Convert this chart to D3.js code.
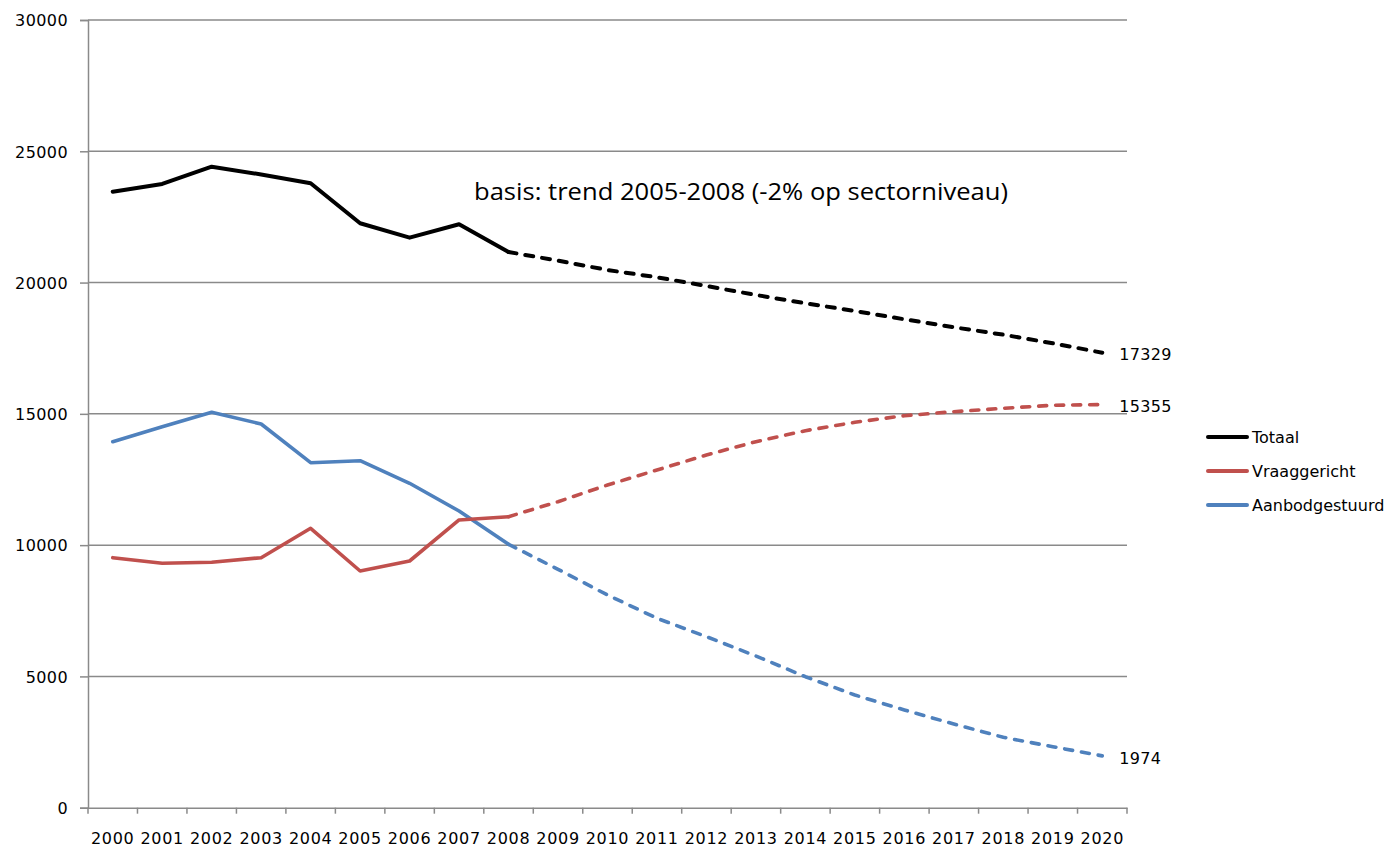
<!DOCTYPE html>
<html>
<head>
<meta charset="utf-8">
<script src="https://cdn.jsdelivr.net/npm/d3@7"></script>
<style>
  html, body { margin: 0; padding: 0; background: #ffffff; }
  svg { display: block; }
</style>
</head>
<body>
<svg id="chart" width="1398" height="849"></svg>
<script>
// Categories (years) and series values
const years = ["2000","2001","2002","2003","2004","2005","2006","2007","2008","2009","2010",
               "2011","2012","2013","2014","2015","2016","2017","2018","2019","2020"];
const totaal = [23462, 23755, 24414, 24117, 23782, 22258, 21710, 22220, 21165, 20833, 20479,
                20201, 19870, 19527, 19211, 18918, 18602, 18297, 18015, 17688, 17329];
const vraaggericht = [9522, 9308, 9347, 9522, 10642, 9015, 9396, 10958, 11083, 11655, 12291,
                      12862, 13433, 13940, 14359, 14679, 14930, 15082, 15212, 15326, 15355];
const aanbodgestuurd = [13940, 14511, 15060, 14614, 13140, 13216, 12355, 11300, 10032, 9080, 8101,
                        7214, 6513, 5778, 4989, 4292, 3721, 3188, 2681, 2323, 1974];
const yTicks = [0, 5000, 10000, 15000, 20000, 25000, 30000];
const seriesNames = ["Totaal", "Vraaggericht", "Aanbodgestuurd"];
const seriesColors = ["#000000", "#C0504D", "#4F81BD"];
const lastActualYear = "2008";
const note = "basis: trend 2005-2008 (-2% op sectorniveau)";

const svg = d3.select("#chart");
const plotLeft = 88, plotRight = 1127, plotTop = 20, plotBottom = 807.7;
const axisColor = "#8a8a8a";
const tickFont = "'DejaVu Sans', Verdana, sans-serif";

const x = d3.scaleBand().domain(years).range([plotLeft, plotRight]).padding(0);
const y = d3.scaleLinear().domain([0, 30000]).range([plotBottom, plotTop]);
const cx = d => x(d) + x.bandwidth() / 2;

// Horizontal gridlines
svg.append("g")
  .selectAll("line")
  .data(yTicks.filter(t => t > 0))
  .join("line")
  .attr("x1", plotLeft).attr("x2", plotRight)
  .attr("y1", d => y(d)).attr("y2", d => y(d))
  .attr("stroke", axisColor).attr("stroke-width", 1.5);

// Y axis
const yAxis = svg.append("g")
  .attr("transform", `translate(${plotLeft},0)`)
  .call(d3.axisLeft(y).tickValues(yTicks).tickSize(8).tickPadding(12).tickFormat(d => String(d)));
yAxis.select(".domain").attr("stroke", axisColor).attr("stroke-width", 1.5);
yAxis.selectAll(".tick line").attr("stroke", axisColor).attr("stroke-width", 1.5);
yAxis.selectAll(".tick text")
  .attr("font-family", tickFont).attr("font-size", 16).attr("letter-spacing", 0.4)
  .attr("fill", "#000").attr("dy", "0.36em");

// X axis: labels centred in each category, tick marks on category boundaries
const xAxis = svg.append("g")
  .attr("transform", `translate(0,${plotBottom})`)
  .call(d3.axisBottom(x).tickSize(0).tickPadding(25));
xAxis.select(".domain").attr("stroke", axisColor).attr("stroke-width", 1.5);
xAxis.selectAll(".tick text")
  .attr("font-family", tickFont).attr("font-size", 16).attr("letter-spacing", 0.7)
  .attr("fill", "#000");
const boundaries = years.map(d => x(d)).concat([x(years[years.length - 1]) + x.bandwidth()]);
xAxis.append("g")
  .selectAll("line")
  .data(boundaries)
  .join("line")
  .attr("x1", d => d).attr("x2", d => d)
  .attr("y1", 0).attr("y2", 6)
  .attr("stroke", axisColor).attr("stroke-width", 1.5);

// Series lines: solid for recorded years, dashed for the projection
const splitIdx = years.indexOf(lastActualYear);
const seriesValues = [totaal, vraaggericht, aanbodgestuurd];
const line = d3.line().x(d => cx(d.year)).y(d => y(d.value));
const order = [2, 1, 0];
order.forEach(i => {
  const pts = years.map((yr, j) => ({ year: yr, value: seriesValues[i][j] }));
  const w = i === 0 ? 4 : 3.6;
  svg.append("path")
    .datum(pts.slice(0, splitIdx + 1))
    .attr("d", line)
    .attr("fill", "none").attr("stroke", seriesColors[i]).attr("stroke-width", w)
    .attr("stroke-linejoin", "round").attr("stroke-linecap", "round");
  svg.append("path")
    .datum(pts.slice(splitIdx))
    .attr("d", line)
    .attr("fill", "none").attr("stroke", seriesColors[i]).attr("stroke-width", w)
    .attr("stroke-linejoin", "round").attr("stroke-linecap", "round")
    .attr("stroke-dasharray", "8,9");
});

// End-of-series value labels
const lastYear = years[years.length - 1];
[0, 1, 2].forEach(i => {
  const v = seriesValues[i][years.length - 1];
  svg.append("text")
    .attr("x", cx(lastYear) + 17)
    .attr("y", y(v) + 2)
    .attr("dy", "0.36em")
    .attr("font-family", tickFont).attr("font-size", 16).attr("letter-spacing", 0.3)
    .attr("fill", "#000")
    .text(v);
});

// Annotation
svg.append("text")
  .attr("x", 474).attr("y", 200)
  .attr("font-family", "'Open Sans', 'Noto Sans', sans-serif")
  .attr("font-size", 23)
  .attr("textLength", 534).attr("lengthAdjust", "spacingAndGlyphs")
  .attr("fill", "#000")
  .text(note);

// Legend
const legend = svg.append("g");
seriesNames.forEach((name, i) => {
  const ly = 437 + i * 34;
  legend.append("line")
    .attr("x1", 1208).attr("x2", 1247).attr("y1", ly).attr("y2", ly)
    .attr("stroke", seriesColors[i]).attr("stroke-width", 4)
    .attr("stroke-linecap", "round");
  legend.append("text")
    .attr("x", 1252).attr("y", ly).attr("dy", "0.36em")
    .attr("font-family", tickFont).attr("font-size", 16)
    .attr("fill", "#000")
    .text(name);
});
</script>
</body>
</html>
